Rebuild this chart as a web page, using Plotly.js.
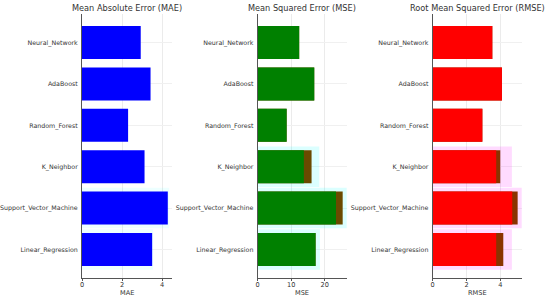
<!DOCTYPE html>
<html>
<head>
<meta charset="utf-8">
<script src="https://cdn.plot.ly/plotly-3.0.1.min.js"></script>
<style>html,body{margin:0;padding:0;background:#fff;}#chart{width:550px;height:299px;}</style>
</head>
<body>
<div id="chart"></div>
<script>
// Categories (bottom to top as drawn)
const models = ["Linear_Regression", "Support_Vector_Machine", "K_Neighbor", "Random_Forest", "AdaBoost", "Neural_Network"];

// Metric values (full bar length)
const maeValues  = [3.50, 4.28, 3.12, 2.30, 3.42, 2.93];
const mseValues  = [17.3, 25.4, 16.1, 8.65, 16.9, 12.4];
const rmseValues = [4.18, 5.03, 4.00, 2.94, 4.10, 3.53];

// Inner (bright) portion of each bar; remainder shows darker overlap
const mseInner  = [17.3, 23.4, 13.8, 8.65, 16.9, 12.4];
const rmseInner = [3.76, 4.71, 3.76, 2.94, 4.10, 3.53];

// Faint background bands behind some bars
const maeBand  = [3.55, 4.35, 0, 0, 0, 0];
const mseBand  = [18.6, 28.0, 18.4, 0, 0, 0];
const rmseBand = [4.69, 5.62, 4.69, 0, 0, 0];

const titles = ["Mean Absolute Error (MAE)", "Mean Squared Error (MSE)", "Root Mean Squared Error (RMSE)"];
const axisLabels = ["MAE", "MSE", "RMSE"];

const font = "DejaVu Sans, sans-serif";

function bar(x, color, xa, ya, width) {
  return {type: "bar", orientation: "h", y: models, x: x, xaxis: xa, yaxis: ya,
    width: width, marker: {color: color, line: {width: 0}}, hoverinfo: "skip", showlegend: false};
}

const data = [
  bar(maeBand, "rgba(0,255,255,0.07)", "x", "y", 0.98),
  bar(maeValues, "#0000ff", "x", "y", 0.8),
  bar(mseBand, "rgba(0,255,255,0.14)", "x2", "y2", 0.98),
  bar(mseValues, "#6b4a00", "x2", "y2", 0.8),
  bar(mseInner, "#008000", "x2", "y2", 0.8),
  bar(rmseBand, "rgba(255,0,255,0.14)", "x3", "y3", 0.98),
  bar(rmseValues, "#8a3300", "x3", "y3", 0.8),
  bar(rmseInner, "#ff0000", "x3", "y3", 0.8)
];

const ydom = [21/299, 285/299];
function xax(domain, range, dtick, anchor) {
  return {domain: domain, anchor: anchor, range: range, dtick: dtick, tick0: 0, showgrid: true, gridcolor: "#ebebeb", gridwidth: 1,
    zeroline: false, showline: true, linecolor: "#555", linewidth: 1, ticks: "outside", ticklen: 2, tickcolor: "#555",
    ticklabelstandoff: -2,
    tickfont: {family: font, size: 6.6, color: "#333"}, fixedrange: true};
}
function yax(anchor) {
  return {domain: ydom, anchor: anchor, type: "category", range: [-0.69, 5.69], showgrid: true, gridcolor: "#f0f0f0",
    zeroline: false, showline: true, linecolor: "#555", linewidth: 1, ticks: "", ticklabelstandoff: 2,
    tickfont: {family: font, size: 6.3, color: "#333"}, fixedrange: true};
}

const xa1 = xax([82/550, 172/550], [0, 4.49], 2, "y");
const xa2 = xax([257.7/550, 346.7/550], [0, 26.6], 10, "y2");
const xa3 = xax([432.7/550, 521.7/550], [0, 5.27], 2, "y3");

const xrefs = ["x domain", "x2 domain", "x3 domain"];
const annotations = titles.map((t, i) => ({
  text: t, xref: xrefs[i], x: 0.5, yref: "paper", y: (299 - 8) / 299,
  xanchor: "center", yanchor: "middle", showarrow: false, font: {family: font, size: 8.2, color: "#333"}
})).concat(axisLabels.map((t, i) => ({
  text: t, xref: xrefs[i], x: 0.5, yref: "paper", y: (299 - 293) / 299,
  xanchor: "center", yanchor: "middle", showarrow: false, font: {family: font, size: 6.6, color: "#333"}
})));

const layout = {
  width: 550, height: 299, margin: {l: 0, r: 0, t: 0, b: 0}, paper_bgcolor: "#fff", plot_bgcolor: "#fff",
  barmode: "overlay",
  xaxis: xa1, yaxis: yax("x"), xaxis2: xa2, yaxis2: yax("x2"), xaxis3: xa3, yaxis3: yax("x3"),
  annotations: annotations, showlegend: false
};

Plotly.newPlot("chart", data, layout, {staticPlot: true, displayModeBar: false});
</script>
</body>
</html>
